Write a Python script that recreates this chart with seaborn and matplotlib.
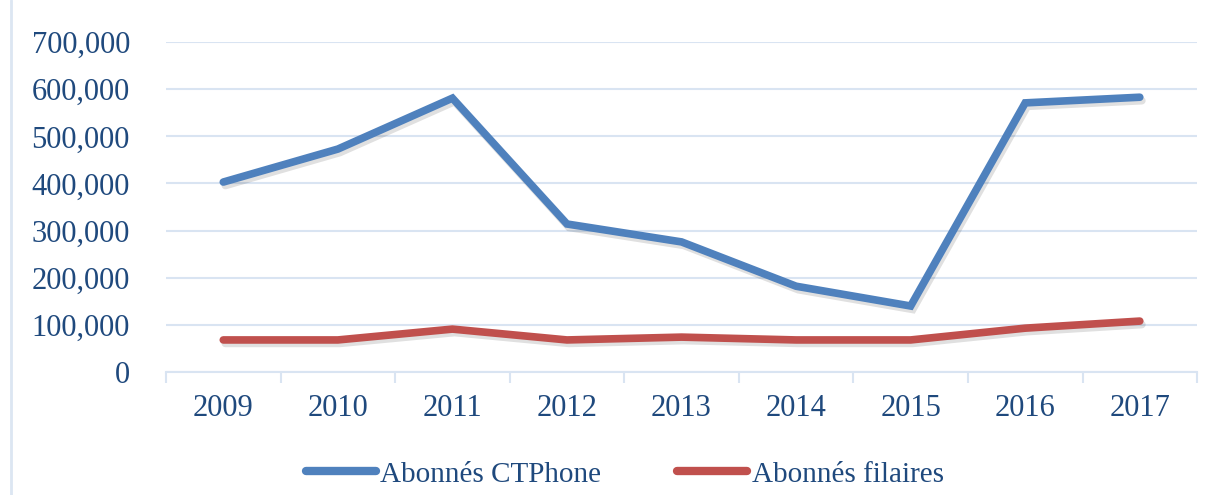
import pandas as pd
import matplotlib.pyplot as plt
import matplotlib.patheffects as pe
from matplotlib.ticker import FuncFormatter, FixedLocator
import seaborn as sns

# Data
years = [2009, 2010, 2011, 2012, 2013, 2014, 2015, 2016, 2017]
ctphone = [403000, 473000, 581000, 314000, 276000, 182000, 140000, 571000, 583000]
filaires = [68000, 68000, 91000, 68000, 74000, 68000, 68000, 93000, 108000]
series_names = ['Abonnés CTPhone', 'Abonnés filaires']
colors = ['#4F81BD', '#C0504D']

df = pd.DataFrame({'year': years * 2,
                   'value': ctphone + filaires,
                   'serie': [series_names[0]] * len(years) + [series_names[1]] * len(years)})

sns.set_style('white')
plt.rcParams['font.family'] = ['Liberation Serif', 'DejaVu Serif']
text_col = '#1F497D'
grid_col = '#D9E4F2'

fig = plt.figure(figsize=(12.27, 4.95), dpi=100)
ax = fig.add_axes([0.1353, 0.2485, 0.8403, 0.6665])

sns.lineplot(data=df, x='year', y='value', hue='serie', palette=colors,
             linewidth=5.5, ax=ax, legend=True)
for line in ax.get_lines():
    line.set_solid_capstyle('round')
    line.set_solid_joinstyle('miter')
    line.set_path_effects([pe.SimpleLineShadow(offset=(1.5, -2.5), alpha=0.12, rho=0.5),
                           pe.Normal()])

ax.set_xlim(years[0] - 0.5, years[-1] + 0.5)
ax.set_ylim(0, 700000)
ax.set_yticks(range(0, 700001, 100000))
ax.yaxis.set_major_formatter(FuncFormatter(lambda v, p: f'{int(v):,}'))
ax.set_xticks(years)
ax.set_xticklabels([str(y) for y in years])
ax.xaxis.set_minor_locator(FixedLocator([y - 0.5 for y in years] + [years[-1] + 0.5]))

ax.grid(axis='y', color=grid_col, linewidth=1.5)
ax.set_axisbelow(True)
for s in ['top', 'right', 'left']:
    ax.spines[s].set_visible(False)
ax.spines['bottom'].set_color(grid_col)
ax.spines['bottom'].set_linewidth(1.5)

ax.tick_params(axis='y', length=0, labelsize=22, labelcolor=text_col, pad=26)
ax.tick_params(axis='x', which='major', bottom=False, length=0, labelsize=22,
               labelcolor=text_col, pad=16)
ax.tick_params(axis='x', which='minor', bottom=True, direction='out', length=8,
               width=1.5, color=grid_col)
ax.set_xlabel('')
ax.set_ylabel('')

handles, labels = ax.get_legend_handles_labels()
leg = ax.legend(handles, labels, loc='lower center', bbox_to_anchor=(0.445, -0.43),
                ncol=2, frameon=False, fontsize=21, handlelength=2.4,
                handletextpad=0.15, columnspacing=2.6)
for t in leg.get_texts():
    t.set_color(text_col)
for h in leg.get_lines():
    h.set_linewidth(6)
    h.set_solid_capstyle('round')
    h.set_path_effects([])

# thin frame line on the left edge
fig.add_artist(plt.Line2D([0.009, 0.009], [0, 1], color='#DCE6F2', linewidth=2))

fig.savefig('out.png', dpi=100)
